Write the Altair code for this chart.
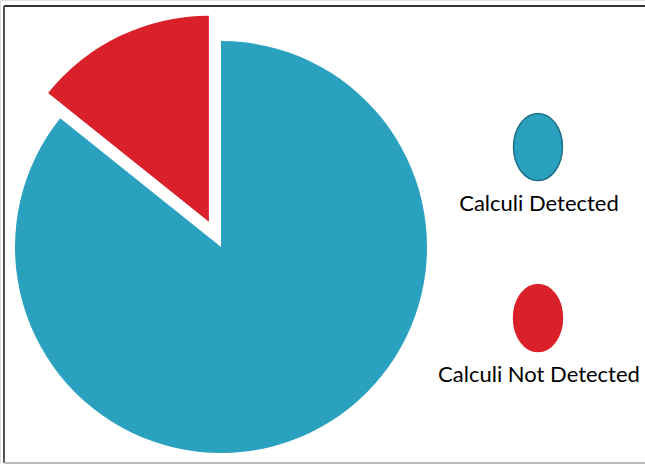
import math
import altair as alt
import pandas as pd

# ---- data ----
categories = ["Calculi Detected", "Calculi Not Detected"]
values = [85.75, 14.25]
colors = ["#2AA2BF", "#DA2029"]
outline = ["#1E7088", "#DA2029"]

df = pd.DataFrame({"category": categories, "value": values, "order": [0, 1]})

W, H = 645, 464
cx, cy, R = 221, 247, 206
explode = 28

# mid-angle of the exploded slice (derived from the data)
total = sum(values)
start = 2 * math.pi * values[0] / total
end = 2 * math.pi
mid = (start + end) / 2
dx = explode * math.sin(mid)
dy = -explode * math.cos(mid)

base = alt.Chart(df).transform_joinaggregate(
    total="sum(value)"
).transform_window(
    cum="sum(value)", sort=[alt.SortField("order")]
).transform_calculate(
    a0="2*PI*(datum.cum - datum.value)/datum.total",
    a1="2*PI*datum.cum/datum.total",
)

color_scale = alt.Scale(domain=categories, range=colors)

pie_main = base.transform_filter(
    alt.datum.category == categories[0]
).mark_arc(radius=R).encode(
    theta=alt.Theta("a0:Q", scale=None),
    theta2="a1:Q",
    color=alt.Color("category:N", scale=color_scale, legend=None),
    x=alt.value(cx),
    y=alt.value(cy),
)

pie_exploded = base.transform_filter(
    alt.datum.category == categories[1]
).mark_arc(radius=R, xOffset=dx, yOffset=dy).encode(
    theta=alt.Theta("a0:Q", scale=None),
    theta2="a1:Q",
    color=alt.Color("category:N", scale=color_scale, legend=None),
    x=alt.value(cx),
    y=alt.value(cy),
)

# ---- custom legend: ellipses with labels beneath ----
ellipse = "M0,-1A0.73,1,0,1,1,0,1A0.73,1,0,1,1,0,-1Z"
ypos = alt.Y("category:N", scale=alt.Scale(domain=categories, range=[147, 318], padding=0), axis=None)

legend_sym = alt.Chart(df).mark_point(
    shape=ellipse, size=4489, filled=True, strokeWidth=1.5, opacity=1
).encode(
    x=alt.value(538),
    y=ypos,
    fill=alt.Color("category:N", scale=color_scale, legend=None),
    stroke=alt.Stroke("category:N", scale=alt.Scale(domain=categories, range=outline), legend=None),
)

legend_txt = alt.Chart(df).mark_text(
    font="Lato", fontSize=22, color="#000000", align="center", baseline="alphabetic", dy=64
).encode(
    x=alt.value(539),
    y=ypos,
    text="category:N",
)

# ---- frame lines ----
frame_top = alt.Chart(df).mark_rule(color="#333333", strokeWidth=2).encode(
    x=alt.value(4), x2=alt.value(W), y=alt.value(6)
)
frame_left = alt.Chart(df).mark_rule(color="#555555", strokeWidth=2).encode(
    x=alt.value(4), y=alt.value(6), y2=alt.value(463)
)
frame_bottom = alt.Chart(df).mark_rule(color="#BBBBBB", strokeWidth=2).encode(
    x=alt.value(4), x2=alt.value(W), y=alt.value(463)
)

chart = alt.layer(
    pie_main, pie_exploded, legend_sym, legend_txt, frame_top, frame_left, frame_bottom
).properties(
    width=W, height=H, padding=0, autosize=alt.AutoSizeParams(type="none")
).configure_view(stroke=None).configure(background="white")

chart.save("out.html", embed_options={"renderer": "svg", "actions": False})
